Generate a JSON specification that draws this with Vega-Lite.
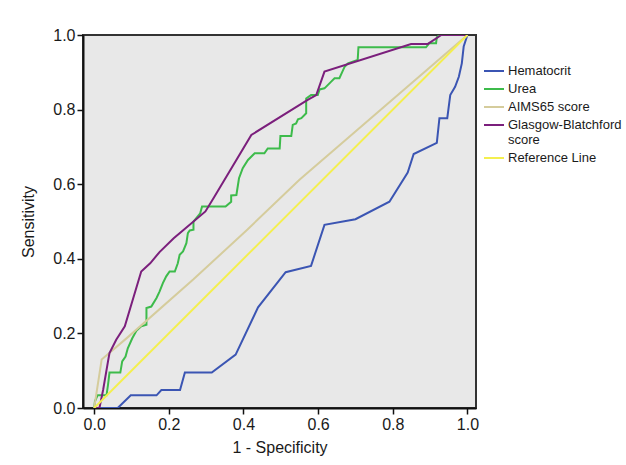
{
  "$schema": "https://vega.github.io/schema/vega-lite/v6.json",
  "width": 393,
  "height": 373,
  "autosize": "none",
  "padding": {"left": 83, "top": 35, "right": 150, "bottom": 57},
  "background": "white",
  "config": {
    "font": "Liberation Sans",
    "view": {"fill": "#e8e8e8", "stroke": "#333333", "strokeWidth": 2},
    "axis": {
      "domainColor": "#111111", "domainWidth": 2, "tickColor": "#111111", "tickWidth": 1.5,
      "tickSize": 6, "grid": false, "labelFont": "Liberation Sans", "labelFontSize": 16,
      "labelColor": "#1a1a1a", "titleFont": "Liberation Sans", "titleFontSize": 16,
      "titleFontWeight": "normal", "titleColor": "#1a1a1a", "labelPadding": 2
    },
    "legend": {"labelFont": "Liberation Sans", "labelFontSize": 13, "labelColor": "#1a1a1a"}
  },
  "data": {"values": [
    {"s":"Hematocrit","i":0,"x":0,"y":0},{"s":"Hematocrit","i":1,"x":0.063,"y":0},{"s":"Hematocrit","i":2,"x":0.098,"y":0.034},{"s":"Hematocrit","i":3,"x":0.167,"y":0.034},{"s":"Hematocrit","i":4,"x":0.18,"y":0.048},{"s":"Hematocrit","i":5,"x":0.23,"y":0.048},{"s":"Hematocrit","i":6,"x":0.243,"y":0.095},{"s":"Hematocrit","i":7,"x":0.315,"y":0.095},{"s":"Hematocrit","i":8,"x":0.379,"y":0.143},{"s":"Hematocrit","i":9,"x":0.439,"y":0.27},{"s":"Hematocrit","i":10,"x":0.513,"y":0.364},{"s":"Hematocrit","i":11,"x":0.581,"y":0.381},{"s":"Hematocrit","i":12,"x":0.617,"y":0.491},{"s":"Hematocrit","i":13,"x":0.70,"y":0.506},{"s":"Hematocrit","i":14,"x":0.791,"y":0.553},{"s":"Hematocrit","i":15,"x":0.84,"y":0.631},{"s":"Hematocrit","i":16,"x":0.856,"y":0.681},{"s":"Hematocrit","i":17,"x":0.918,"y":0.711},{"s":"Hematocrit","i":18,"x":0.925,"y":0.777},{"s":"Hematocrit","i":19,"x":0.946,"y":0.777},{"s":"Hematocrit","i":20,"x":0.954,"y":0.839},{"s":"Hematocrit","i":21,"x":0.967,"y":0.861},{"s":"Hematocrit","i":22,"x":0.977,"y":0.888},{"s":"Hematocrit","i":23,"x":0.985,"y":0.924},{"s":"Hematocrit","i":24,"x":0.99,"y":0.969},{"s":"Hematocrit","i":25,"x":1,"y":1},
    {"s":"Urea","i":0,"x":0,"y":0},{"s":"Urea","i":1,"x":0.002,"y":0.018},{"s":"Urea","i":2,"x":0.009,"y":0.034},{"s":"Urea","i":3,"x":0.033,"y":0.034},{"s":"Urea","i":4,"x":0.037,"y":0.062},{"s":"Urea","i":5,"x":0.041,"y":0.095},{"s":"Urea","i":6,"x":0.07,"y":0.095},{"s":"Urea","i":7,"x":0.075,"y":0.125},{"s":"Urea","i":8,"x":0.084,"y":0.138},{"s":"Urea","i":9,"x":0.09,"y":0.16},{"s":"Urea","i":10,"x":0.102,"y":0.187},{"s":"Urea","i":11,"x":0.113,"y":0.207},{"s":"Urea","i":12,"x":0.126,"y":0.219},{"s":"Urea","i":13,"x":0.14,"y":0.223},{"s":"Urea","i":14,"x":0.14,"y":0.268},{"s":"Urea","i":15,"x":0.153,"y":0.272},{"s":"Urea","i":16,"x":0.167,"y":0.295},{"s":"Urea","i":17,"x":0.175,"y":0.312},{"s":"Urea","i":18,"x":0.184,"y":0.335},{"s":"Urea","i":19,"x":0.193,"y":0.353},{"s":"Urea","i":20,"x":0.202,"y":0.366},{"s":"Urea","i":21,"x":0.216,"y":0.366},{"s":"Urea","i":22,"x":0.224,"y":0.388},{"s":"Urea","i":23,"x":0.229,"y":0.411},{"s":"Urea","i":24,"x":0.238,"y":0.42},{"s":"Urea","i":25,"x":0.247,"y":0.442},{"s":"Urea","i":26,"x":0.251,"y":0.469},{"s":"Urea","i":27,"x":0.256,"y":0.476},{"s":"Urea","i":28,"x":0.266,"y":0.478},{"s":"Urea","i":29,"x":0.266,"y":0.50},{"s":"Urea","i":30,"x":0.284,"y":0.522},{"s":"Urea","i":31,"x":0.289,"y":0.54},{"s":"Urea","i":32,"x":0.352,"y":0.54},{"s":"Urea","i":33,"x":0.367,"y":0.553},{"s":"Urea","i":34,"x":0.367,"y":0.57},{"s":"Urea","i":35,"x":0.381,"y":0.571},{"s":"Urea","i":36,"x":0.388,"y":0.616},{"s":"Urea","i":37,"x":0.398,"y":0.643},{"s":"Urea","i":38,"x":0.412,"y":0.665},{"s":"Urea","i":39,"x":0.43,"y":0.683},{"s":"Urea","i":40,"x":0.456,"y":0.683},{"s":"Urea","i":41,"x":0.465,"y":0.696},{"s":"Urea","i":42,"x":0.497,"y":0.696},{"s":"Urea","i":43,"x":0.499,"y":0.729},{"s":"Urea","i":44,"x":0.528,"y":0.729},{"s":"Urea","i":45,"x":0.532,"y":0.759},{"s":"Urea","i":46,"x":0.541,"y":0.763},{"s":"Urea","i":47,"x":0.546,"y":0.774},{"s":"Urea","i":48,"x":0.555,"y":0.777},{"s":"Urea","i":49,"x":0.568,"y":0.79},{"s":"Urea","i":50,"x":0.568,"y":0.83},{"s":"Urea","i":51,"x":0.581,"y":0.839},{"s":"Urea","i":52,"x":0.599,"y":0.839},{"s":"Urea","i":53,"x":0.604,"y":0.854},{"s":"Urea","i":54,"x":0.617,"y":0.857},{"s":"Urea","i":55,"x":0.635,"y":0.875},{"s":"Urea","i":56,"x":0.644,"y":0.884},{"s":"Urea","i":57,"x":0.657,"y":0.884},{"s":"Urea","i":58,"x":0.671,"y":0.915},{"s":"Urea","i":59,"x":0.68,"y":0.924},{"s":"Urea","i":60,"x":0.706,"y":0.933},{"s":"Urea","i":61,"x":0.708,"y":0.967},{"s":"Urea","i":62,"x":0.889,"y":0.967},{"s":"Urea","i":63,"x":0.898,"y":0.978},{"s":"Urea","i":64,"x":0.916,"y":0.978},{"s":"Urea","i":65,"x":0.918,"y":0.994},{"s":"Urea","i":66,"x":0.925,"y":1},{"s":"Urea","i":67,"x":1,"y":1},
    {"s":"AIMS65 score","i":0,"x":0,"y":0},{"s":"AIMS65 score","i":1,"x":0.003,"y":0.02},{"s":"AIMS65 score","i":2,"x":0.02,"y":0.13},{"s":"AIMS65 score","i":3,"x":0.088,"y":0.188},{"s":"AIMS65 score","i":4,"x":0.266,"y":0.345},{"s":"AIMS65 score","i":5,"x":0.41,"y":0.478},{"s":"AIMS65 score","i":6,"x":0.55,"y":0.612},{"s":"AIMS65 score","i":7,"x":1,"y":1},
    {"s":"Glasgow-Blatchford score","i":0,"x":0,"y":0},{"s":"Glasgow-Blatchford score","i":1,"x":0.014,"y":0},{"s":"Glasgow-Blatchford score","i":2,"x":0.024,"y":0.049},{"s":"Glasgow-Blatchford score","i":3,"x":0.037,"y":0.125},{"s":"Glasgow-Blatchford score","i":4,"x":0.041,"y":0.147},{"s":"Glasgow-Blatchford score","i":5,"x":0.059,"y":0.183},{"s":"Glasgow-Blatchford score","i":6,"x":0.082,"y":0.219},{"s":"Glasgow-Blatchford score","i":7,"x":0.126,"y":0.366},{"s":"Glasgow-Blatchford score","i":8,"x":0.15,"y":0.388},{"s":"Glasgow-Blatchford score","i":9,"x":0.175,"y":0.418},{"s":"Glasgow-Blatchford score","i":10,"x":0.213,"y":0.455},{"s":"Glasgow-Blatchford score","i":11,"x":0.24,"y":0.478},{"s":"Glasgow-Blatchford score","i":12,"x":0.298,"y":0.527},{"s":"Glasgow-Blatchford score","i":13,"x":0.32,"y":0.563},{"s":"Glasgow-Blatchford score","i":14,"x":0.421,"y":0.732},{"s":"Glasgow-Blatchford score","i":15,"x":0.572,"y":0.826},{"s":"Glasgow-Blatchford score","i":16,"x":0.595,"y":0.839},{"s":"Glasgow-Blatchford score","i":17,"x":0.617,"y":0.902},{"s":"Glasgow-Blatchford score","i":18,"x":0.849,"y":0.976},{"s":"Glasgow-Blatchford score","i":19,"x":0.894,"y":0.976},{"s":"Glasgow-Blatchford score","i":20,"x":0.921,"y":0.994},{"s":"Glasgow-Blatchford score","i":21,"x":0.93,"y":1},{"s":"Glasgow-Blatchford score","i":22,"x":1,"y":1},
    {"s":"Reference Line","i":0,"x":0,"y":0},{"s":"Reference Line","i":1,"x":1,"y":1}
  ]},
  "mark": {"type": "line", "strokeWidth": 2, "clip": true},
  "encoding": {
    "x": {"field": "x", "type": "quantitative", "title": "1 - Specificity",
      "scale": {"domain": [-0.03, 1.023], "nice": false, "zero": false},
      "axis": {"values": [0, 0.2, 0.4, 0.6, 0.8, 1.0], "format": ".1f", "titlePadding": 7}},
    "y": {"field": "y", "type": "quantitative", "title": "Sensitivity",
      "scale": {"domain": [0, 1], "nice": false},
      "axis": {"values": [0, 0.2, 0.4, 0.6, 0.8, 1.0], "format": ".1f", "titlePadding": 16}},
    "order": {"field": "i", "type": "quantitative"},
    "color": {"field": "s", "type": "nominal",
      "scale": {"domain": ["Hematocrit", "Urea", "AIMS65 score", "Glasgow-Blatchford score", "Reference Line"],
                "range": ["#3b55b3", "#3dbb4b", "#d5cc9c", "#7b1f7c", "#f4ef4f"]},
      "legend": {"title": null, "orient": "none", "legendX": 400, "legendY": 25, "symbolType": "stroke",
        "symbolSize": 400, "symbolStrokeWidth": 2, "labelOffset": 3, "rowPadding": -2, "padding": 0,
        "labelExpr": "datum.label == 'Glasgow-Blatchford score' ? ['Glasgow-Blatchford', 'score'] : datum.label"}}
  }
}
